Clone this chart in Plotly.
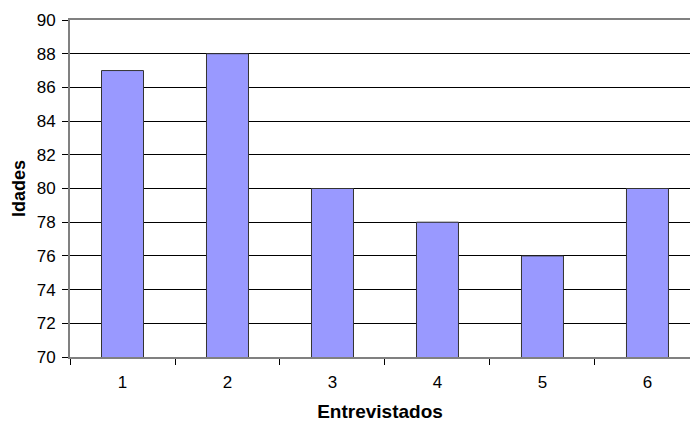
import plotly.graph_objects as go

# Ages of each interviewee
entrevistados = ["1", "2", "3", "4", "5", "6"]
idades = [87, 88, 80, 78, 76, 80]

fig = go.Figure(
    go.Bar(
        x=entrevistados,
        y=idades,
        marker=dict(color="#9999FF", line=dict(color="#333333", width=1)),
    )
)

font = "Liberation Sans, Arial, sans-serif"

fig.update_layout(
    width=690,
    height=422,
    margin=dict(l=70, r=0, t=20, b=65),
    paper_bgcolor="white",
    plot_bgcolor="white",
    bargap=0.6,
    showlegend=False,
    font=dict(family=font, size=17, color="black"),
)

fig.update_xaxes(
    type="category",
    range=[-0.5, 5.405],
    tickson="boundaries",
    ticks="outside",
    ticklen=6,
    tickcolor="black",
    ticklabelstandoff=9,
    showgrid=False,
    showline=True,
    linecolor="#808080",
    linewidth=2,
    mirror=True,
    tickfont=dict(size=17),
    title=dict(text="<b>Entrevistados</b>", font=dict(size=19), standoff=14),
)

fig.update_yaxes(
    range=[70, 90],
    dtick=2,
    ticks="outside",
    ticklen=6,
    tickcolor="black",
    ticklabelstandoff=3,
    showgrid=True,
    gridcolor="black",
    gridwidth=1,
    showline=True,
    linecolor="#808080",
    linewidth=2,
    mirror=False,
    zeroline=False,
    tickfont=dict(size=17),
    title=dict(text="<b>Idades</b>", font=dict(size=18), standoff=6),
)

fig.write_html("out.html")
